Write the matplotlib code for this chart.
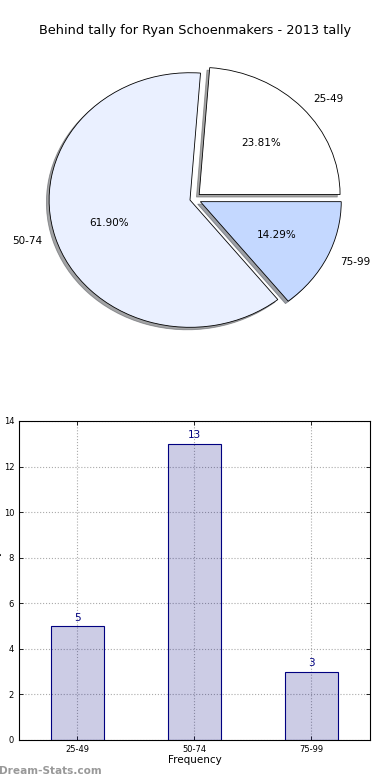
import numpy as np
import matplotlib
matplotlib.use("Agg")
import matplotlib.pyplot as plt

# data
labels = ["25-49", "50-74", "75-99"]
counts = [5, 13, 3]
pie_colors = ["#ffffff", "#eaf0ff", "#c4d8ff"]
explode = [0.05, 0.03, 0.05]
yticks = [0, 2, 4, 6, 8, 10, 12, 14]
title = "Behind tally for Ryan Schoenmakers - 2013 tally"

fig = plt.figure(figsize=(3.9, 7.8), dpi=100)

# pie on top
ax1 = fig.add_axes([0.046, 0.541, 0.903, 0.408])
wedges, texts, autotexts = ax1.pie(counts, labels=labels, colors=pie_colors,
                                   explode=explode, autopct="%1.2f%%",
                                   shadow={"ox": -0.014, "oy": -0.014, "shade": 0.7},
                                   startangle=0,
                                   wedgeprops={"edgecolor": "black", "linewidth": 0.6},
                                   textprops={"fontsize": 7.5})
ax1.set_aspect("auto")
ax1.set_xlim(-1.25, 1.25)
ax1.set_ylim(-1.25, 1.25)
fig.text(0.5, 0.961, title, ha="center", va="center", fontsize=9.3)

# bar chart below
ax2 = fig.add_axes([0.0487, 0.0513, 0.9, 0.409])
x = np.arange(len(labels))
ax2.bar(x, counts, width=0.45, color="navy", alpha=0.2, zorder=2)
ax2.bar(x, counts, width=0.45, facecolor="none", edgecolor="navy", linewidth=0.8, zorder=3)
for xi, c in zip(x, counts):
    ax2.text(xi, c + 0.15, str(c), ha="center", va="bottom", color="navy", fontsize=7.5)
ax2.set_xlim(-0.5, 2.5)
ax2.set_ylim(0, 14)
ax2.set_xticks(x)
ax2.set_xticklabels(labels)
ax2.set_yticks(yticks)
ax2.tick_params(direction="in", top=True, right=True, labelsize=6, length=3, width=0.6)
ax2.grid(True, linestyle=":", color="#aaaaaa", linewidth=0.8, zorder=0)
ax2.set_axisbelow(True)
ax2.set_xlabel("Frequency", fontsize=7.5, labelpad=1)
for s in ax2.spines.values():
    s.set_linewidth(0.8)
fig.text(0.006, 0.255, "Behind tally", rotation=90, ha="right", va="center", fontsize=7.5)

fig.text(-0.003, 0.012, "Dream-Stats.com", color="#999999", fontsize=7.6, fontweight="bold",
         ha="left", va="center")

fig.savefig("out.png", dpi=100)
